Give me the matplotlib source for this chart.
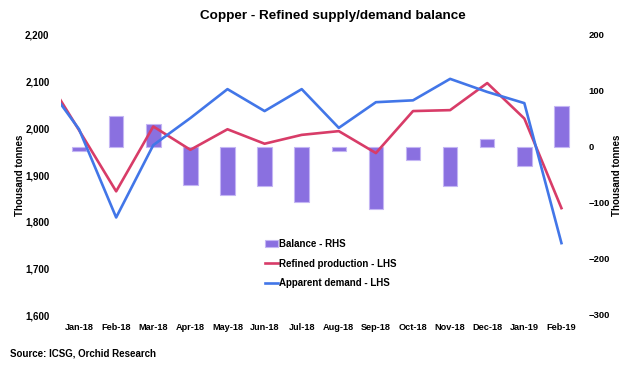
"""
Copper refined supply/demand balance chart (ICSG data), recreated with matplotlib.
"""
import numpy as np
import matplotlib
matplotlib.use("Agg")
import matplotlib.pyplot as plt

plt.rcParams["font.family"] = ["Liberation Sans", "DejaVu Sans"]
plt.rcParams["font.weight"] = "bold"

months = ["Jan-18", "Feb-18", "Mar-18", "Apr-18", "May-18", "Jun-18", "Jul-18",
          "Aug-18", "Sep-18", "Oct-18", "Nov-18", "Dec-18", "Jan-19", "Feb-19"]
# lines start one month earlier (Dec-17), the first point sits outside the plot area
lineIndex = np.arange(-1, len(months))
refinedProduction = [2125, 1996, 1865, 2004, 1954, 1998, 1967, 1986, 1994, 1947,
                     2037, 2039, 2097, 2021, 1829]
apparentDemand = [2108, 1998, 1809, 1964, 2022, 2084, 2037, 2084, 2001, 2056,
                  2060, 2106, 2078, 2054, 1754]
balance = [-7, 55, 41, -67, -86, -70, -98, -7, -111, -23, -69, 14, -34, 73]

BAR_COLOR = "#8a70e0"
RED = "#d83c68"
BLUE = "#4276e8"

fig = plt.figure(figsize=(6.4, 3.72), dpi=100)
ax = fig.add_axes([60.5 / 640, 1 - 315 / 372, (580 - 60.5) / 640, 280 / 372])
ax2 = ax.twinx()

x = np.arange(len(months))
bars = ax2.bar(x, balance, width=0.39, color=BAR_COLOR, edgecolor="#c4b6f4", linewidth=0.8,
               label="Balance - RHS")
lineRed, = ax.plot(lineIndex, refinedProduction, color=RED, linewidth=1.9,
                   label="Refined production - LHS")
lineBlue, = ax.plot(lineIndex, apparentDemand, color=BLUE, linewidth=1.9,
                    label="Apparent demand - LHS")

# lines above bars
ax.set_zorder(ax2.get_zorder() + 1)
ax.patch.set_visible(False)

ax.set_xlim(-0.5, len(months) - 0.5)
ax.set_ylim(1600, 2200)
ax2.set_ylim(-300, 200)
ax.set_yticks(np.arange(1600, 2201, 100))
ax.set_yticklabels([f"{v:,}" for v in range(1600, 2201, 100)])
ax2.set_yticks(np.arange(-300, 201, 100))
ax.set_xticks(x)
ax.set_xticklabels(months)

for a in (ax, ax2):
    for s in a.spines.values():
        s.set_visible(False)
    a.tick_params(length=0, labelsize=7)
ax.tick_params(axis="y", pad=8)
ax2.tick_params(axis="y", pad=6, labelsize=6.8)
ax.tick_params(axis="x", pad=6, labelsize=6.6)
for lbl in ax2.get_yticklabels():
    lbl.set_horizontalalignment("left")

fig.text(20 / 640, 1 - 175 / 372, "Thousand tonnes", rotation=90, ha="center", va="center",
         fontsize=7, fontweight="bold")
fig.text(617 / 640, 1 - 175 / 372, "Thousand tonnes", rotation=90, ha="center", va="center",
         fontsize=7, fontweight="bold")

fig.text(333 / 640, 1 - 16 / 372, "Copper - Refined supply/demand balance", ha="center",
         va="center", fontsize=9.7, fontweight="bold")
fig.text(10 / 640, 1 - 354 / 372, "Source: ICSG, Orchid Research", ha="left", va="center",
         fontsize=7, fontweight="bold")

fig.legend(handles=[bars, lineRed, lineBlue], loc="upper left",
           bbox_to_anchor=(265 / 640, 1 - 239 / 372), frameon=False, fontsize=7,
           handlelength=1.35, handletextpad=0.1, labelspacing=1.0, borderpad=0,
           borderaxespad=0, handleheight=0.6)

fig.savefig("out.png", dpi=100)
